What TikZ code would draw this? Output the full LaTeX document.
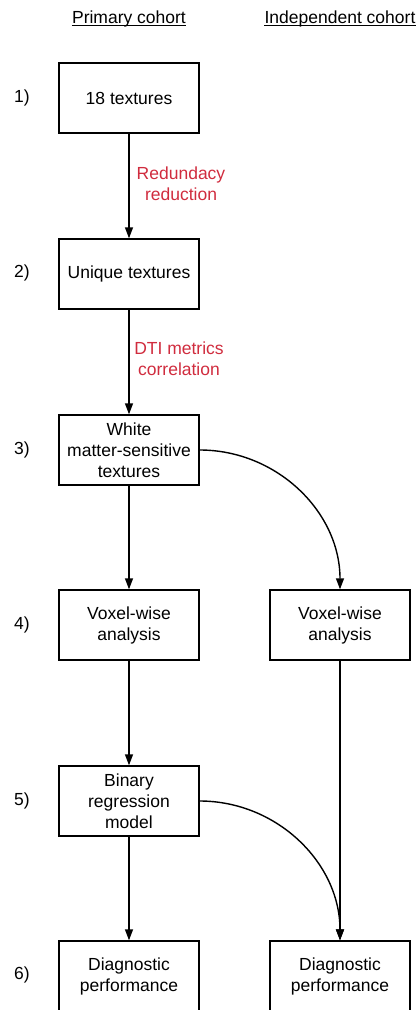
\documentclass[tikz,border=0pt]{standalone}
\usepackage{fontspec}
\setmainfont{Liberation Sans}
\usetikzlibrary{arrows.meta}
\definecolor{NoteClr}{RGB}{208,44,62}

\begin{document}
\begin{tikzpicture}[x=1pt,y=-1pt,
  font=\fontsize{17.5}{21}\selectfont,
  head/.style={inner sep=0pt,anchor=base},
  stepbox/.style={draw,line width=1.4pt,minimum width=140pt,minimum height=70pt,
    align=center,inner sep=2pt},
  flow/.style={line width=1.4pt,-{Triangle[length=11pt,width=8pt]}},
  note/.style={text=NoteClr,align=center}]
\useasboundingbox (0,0) rectangle (417,1010);

% Column headers.
\node[head] (hA) at (129,23) {Primary cohort};
\node[head] (hB) at (340,23) {Independent cohort};
\draw[line width=0.9pt] ([yshift=-2.5pt]hA.base west) -- ([yshift=-2.5pt]hA.base east);
\draw[line width=0.9pt] ([yshift=-2.5pt]hB.base west) -- ([yshift=-2.5pt]hB.base east);

% Step numbers.
\foreach \i/\y in {1/98,2/273,3/450,4/625,5/801,6/975}
  \node (n\i) at (22,\y) {\i)};

% Primary cohort.
\node[stepbox] (t18) at (129,98) {18 textures};
\node[stepbox] (uniq) at (129,274) {Unique textures};
\node[stepbox] (wms) at (129,450) {White\\matter-sensitive\\textures};
\node[stepbox] (vwA) at (129,625) {Voxel-wise\\analysis};
\node[stepbox] (brm) at (129,801) {Binary\\regression\\model};
\node[stepbox] (dpA) at (129,976) {Diagnostic\\performance};

% Independent cohort.
\node[stepbox] (vwB) at (340,625) {Voxel-wise\\analysis};
\node[stepbox] (dpB) at (340,976) {Diagnostic\\performance};

% Red notes.
\node[note] (rr) at (181,184) {Redundacy\\reduction};
\node[note] (dti) at (179,359) {DTI metrics\\correlation};

\draw[flow] (t18) -- (uniq);
\draw[flow] (uniq) -- (wms);
\draw[flow] (wms) -- (vwA);
\draw[flow] (vwA) -- (brm);
\draw[flow] (brm) -- (dpA);
\draw[flow] (wms.east) to[out=0,in=90] (vwB.north);
\draw[flow] (vwB) -- (dpB);
\draw[flow] (brm.east) to[out=0,in=90] (dpB.north);

\end{tikzpicture}
\end{document}
